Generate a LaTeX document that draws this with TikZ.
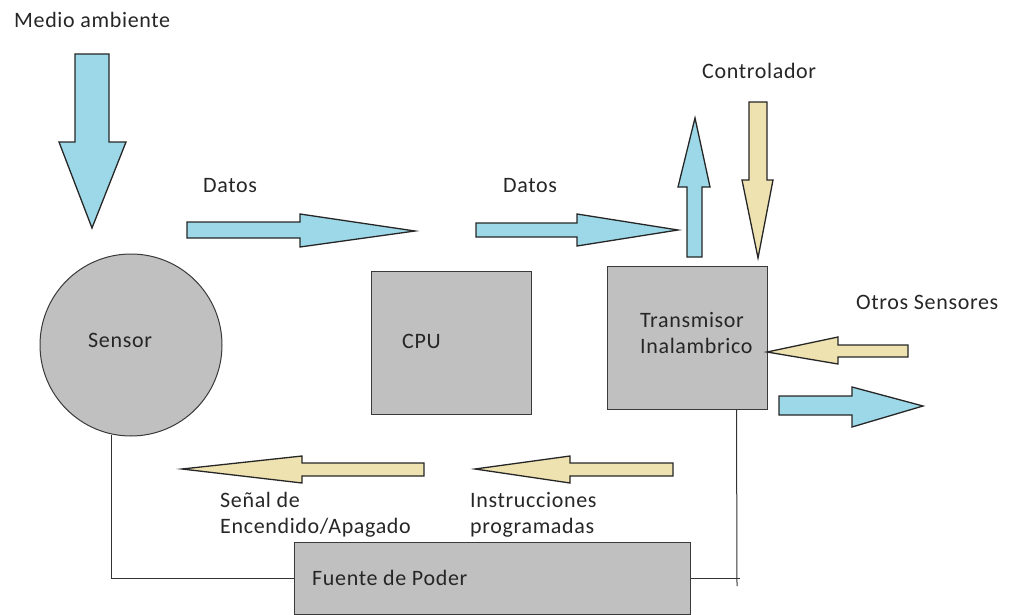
\documentclass[tikz,border=0pt]{standalone}
\usepackage{fontspec}
\setmainfont{Carlito}[LetterSpace=3]
\definecolor{ablue}{HTML}{9DD8E8}
\definecolor{atan}{HTML}{EEE2B0}
\definecolor{boxgray}{HTML}{C0C0C0}
\definecolor{edge}{HTML}{3A3A3A}
\begin{document}
\begin{tikzpicture}[x=1pt,y=-1pt,
  txt/.style={anchor=west,inner sep=0pt,font=\fontsize{22}{26}\selectfont,text=black!85},
  blk/.style={draw=edge,line width=1pt,fill=boxgray,inner sep=0pt},
  barrow/.style={draw=black!85,line width=1.3pt,line join=miter},
  wire/.style={draw=black!80,line width=1pt}]
\useasboundingbox (0,0) rectangle (1014,615);
% boxes
\node[blk,circle,minimum size=182pt] (sensor) at (131,345) {};
\node[blk,minimum width=160pt,minimum height=143pt] (cpu) at (451,342.5) {};
\node[blk,minimum width=160pt,minimum height=143pt] (trans) at (687,337.5) {};
\node[blk,minimum width=396pt,minimum height=72pt] (fuente) at (492,578) {};
% labels
\node[txt] (lmedio) at (14,20) {Medio ambiente};
\node[txt] (ldatos1) at (203,186) {Datos};
\node[txt] (ldatos2) at (503,186) {Datos};
\node[txt] (lctrl) at (702,71) {Controlador};
\node[txt] (lotros) at (856,302) {Otros Sensores};
\node[txt] (lsensor) at (88,340) {Sensor};
\node[txt] (lcpu) at (402,341) {CPU};
\node[txt,align=left] (ltrans) at (640,333.5) {Transmisor\\Inalambrico};
\node[txt,align=left] (lsenal) at (220,515) {Señal de\\Encendido/Apagado};
\node[txt,align=left] (linstr) at (470,515) {Instrucciones\\programadas};
\node[txt] (lfuente) at (312,578) {Fuente de Poder};
% block arrows
% Medio ambiente (down)
\draw[barrow,fill=ablue] (75,54) -- (109,54) -- (109,142) -- (126,142) -- (92,228) -- (59,142) -- (75,142) -- cycle;
% Datos 1 (right)
\draw[barrow,fill=ablue] (187,222) -- (300,222) -- (300,214) -- (415,231) -- (300,247) -- (300,238) -- (187,238) -- cycle;
% Datos 2 (right)
\draw[barrow,fill=ablue] (476,223) -- (577,223) -- (577,214) -- (678,230) -- (577,246) -- (577,237) -- (476,237) -- cycle;
% up arrow from transmisor
\draw[barrow,fill=ablue] (687,257) -- (687,187) -- (678,187) -- (695,118) -- (710,187) -- (702,187) -- (702,257) -- cycle;
% Controlador (down)
\draw[barrow,fill=atan] (749,102) -- (767,102) -- (767,180) -- (773,180) -- (758,258) -- (742,180) -- (749,180) -- cycle;
% Otros sensores (left)
\draw[barrow,fill=atan] (908,345) -- (838,345) -- (838,337) -- (767,352) -- (838,364) -- (838,357) -- (908,357) -- cycle;
% outgoing (right)
\draw[barrow,fill=ablue] (779,396) -- (852,396) -- (852,387) -- (923,406) -- (852,427) -- (852,415) -- (779,415) -- cycle;
% Senal (left)
\draw[barrow,fill=atan] (424,463) -- (302,463) -- (302,456) -- (182,469) -- (302,483) -- (302,476) -- (424,476) -- cycle;
% Instrucciones (left)
\draw[barrow,fill=atan] (673,463) -- (570,463) -- (570,456) -- (475,469) -- (570,483) -- (570,476) -- (673,476) -- cycle;
% wires
\draw[wire] (sensor.-102) |- (fuente.west);
\coordinate (tb) at ([xshift=130pt]trans.south west);
\coordinate (tend) at (737,586);
\coordinate (fend) at (740,578);
\draw[wire] (tb) -- (tend);
\draw[wire] (fuente.east) -- (fend);
\end{tikzpicture}
\end{document}
